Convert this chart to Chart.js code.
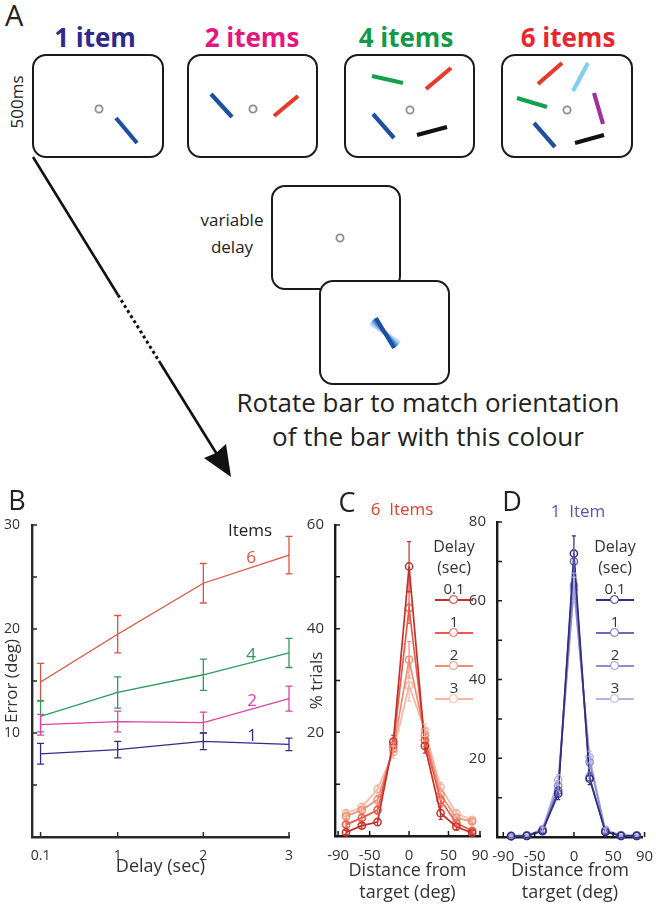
<!DOCTYPE html>
<html>
<head>
<meta charset="utf-8">
<script src="https://cdn.jsdelivr.net/npm/chart.js@4.4.1/dist/chart.umd.min.js"></script>
<style>
  html, body { margin: 0; padding: 0; background: #fff; }
  #fig { position: relative; width: 656px; height: 904px; overflow: hidden;
         font-family: "Open Sans", sans-serif; color: #222; }
  canvas, svg { position: absolute; }
  .lbl { position: absolute; white-space: nowrap; line-height: 1;
         transform: translate(-50%, -50%); }
  .key { position: absolute; width: 38px; height: 2px; }
  .key i { position: absolute; left: 14px; top: -4px; width: 7px; height: 7px;
           border: 1.5px solid; border-radius: 50%; background: #fff; }
</style>
</head>
<body>
<div id="fig">
  <svg id="schema" style="left:0;top:0" width="656" height="480">
    <text x="5" y="26" font-size="29" fill="#222">A</text>
    <g font-size="26" font-weight="700" text-anchor="middle">
      <text x="95" y="47" fill="#2e2a8c">1 item</text>
      <text x="252" y="47" fill="#e5177f">2 items</text>
      <text x="406" y="47" fill="#129a4b">4 items</text>
      <text x="568" y="47" fill="#e8262e">6 items</text>
    </g>
    <text transform="translate(23,102) rotate(-90)" font-size="17" text-anchor="middle" fill="#222">500ms</text>
    <g fill="#fff" stroke="#1a1a1a" stroke-width="2">
      <rect x="33" y="55" width="130" height="102" rx="13"/>
      <rect x="188" y="55" width="129" height="102" rx="13"/>
      <rect x="345" y="55" width="129" height="102" rx="13"/>
      <rect x="502" y="55" width="130" height="102" rx="13"/>
      <rect x="272" y="186" width="128" height="103" rx="13"/>
      <rect x="320" y="281" width="129" height="103" rx="13"/>
    </g>
    <g fill="none" stroke="#8d8d8d" stroke-width="1.8">
      <circle cx="99" cy="109" r="3.6"/>
      <circle cx="253" cy="109" r="3.6"/>
      <circle cx="410" cy="110" r="3.6"/>
      <circle cx="567" cy="110" r="3.6"/>
      <circle cx="340" cy="238" r="3.6"/>
    </g>
    <g stroke-width="4.2" stroke-linecap="butt">
      <line x1="116" y1="118" x2="137" y2="143" stroke="#1f4fa0"/>
      <line x1="211" y1="94" x2="232" y2="117" stroke="#1f4fa0"/>
      <line x1="274" y1="116" x2="298" y2="96" stroke="#e8392b"/>
      <line x1="372" y1="76" x2="403" y2="83" stroke="#13a04f"/>
      <line x1="426" y1="89" x2="451" y2="68" stroke="#e8392b"/>
      <line x1="373" y1="114" x2="394" y2="138" stroke="#1f4fa0"/>
      <line x1="417" y1="135" x2="447" y2="127" stroke="#111"/>
      <line x1="538" y1="84" x2="562" y2="63" stroke="#e8392b"/>
      <line x1="573" y1="91" x2="588" y2="63" stroke="#7fcfef"/>
      <line x1="517" y1="98" x2="547" y2="107" stroke="#13a04f"/>
      <line x1="594" y1="93" x2="603" y2="124" stroke="#a0309a"/>
      <line x1="534" y1="123" x2="555" y2="147" stroke="#1f4fa0"/>
      <line x1="575" y1="143" x2="604" y2="135" stroke="#111"/>
    </g>
    <g stroke-width="4" transform="translate(385,333)">
      <line x1="-9" y1="-15" x2="9" y2="15" stroke="#c6e1f5" transform="rotate(-26)"/>
      <line x1="-9" y1="-15" x2="9" y2="15" stroke="#9cc8ee" transform="rotate(-19)"/>
      <line x1="-9" y1="-15" x2="9" y2="15" stroke="#6aa6dd" transform="rotate(-12)"/>
      <line x1="-9" y1="-15" x2="9" y2="15" stroke="#3c7cc5" transform="rotate(-6)"/>
      <line x1="-9" y1="-15" x2="9" y2="15" stroke="#1f4fa0"/>
    </g>
    <g font-size="17" fill="#222" text-anchor="middle">
      <text x="232" y="226">variable</text>
      <text x="232" y="253">delay</text>
    </g>
    <g font-size="26" fill="#222" text-anchor="middle">
      <text x="428" y="412">Rotate bar to match orientation</text>
      <text x="428" y="446">of the bar with this colour</text>
    </g>
    <g stroke="#111" stroke-width="2.6" fill="none">
      <line x1="33" y1="157" x2="118" y2="295"/>
      <line x1="118" y1="295" x2="159" y2="361" stroke-dasharray="3 3" stroke-width="3"/>
      <line x1="159" y1="361" x2="218" y2="456"/>
    </g>
    <path d="M231 477 L204 458 L216 453 L226 444 Z" fill="#111"/>
  </svg>

  <canvas id="chartB" width="300" height="400" style="left:0;top:480px"></canvas>
  <canvas id="chartC" width="195" height="424" style="left:300px;top:480px"></canvas>
  <canvas id="chartD" width="196" height="424" style="left:460px;top:480px"></canvas>

  <div class="lbl" style="left:17px;top:499px;font-size:27px">B</div>
  <div class="lbl" style="left:250px;top:529px;font-size:17px">Items</div>
  <div class="lbl" style="left:251px;top:556px;font-size:17px;color:#e0533f">6</div>
  <div class="lbl" style="left:251px;top:653px;font-size:17px;color:#2e9b5e">4</div>
  <div class="lbl" style="left:252px;top:699px;font-size:17px;color:#e040a8">2</div>
  <div class="lbl" style="left:252px;top:734px;font-size:17px;color:#2f2f86">1</div>

  <div class="lbl" style="left:347px;top:501px;font-size:27px">C</div>
  <div class="lbl" style="left:402px;top:508px;font-size:17px;color:#e0402e">6&nbsp; Items</div>
  <div class="lbl" style="left:512px;top:500px;font-size:27px">D</div>
  <div class="lbl" style="left:578px;top:510px;font-size:17px;color:#5b55b0">1&nbsp; Item</div>

  <div id="legC"></div>
  <div id="legD"></div>
</div>

<script>
// ---- data ----
const delays = [0.1, 1, 2, 3];
const setSizes = ['6', '4', '2', '1'];
const errorTicks = [0, 5, 10, 15, 20, 25, 30];
const errorLabels = [10, 20, 30];

const err6 = [14.9, 19.5, 24.4, 27.1];
const err4 = [11.6, 13.9, 15.6, 17.7];
const err2 = [10.8, 11.1, 11.0, 13.3];
const err1 = [8.0, 8.4, 9.2, 8.9];
const sem6 = [1.8, 1.8, 1.9, 1.8];
const sem4 = [1.5, 1.5, 1.5, 1.4];
const sem2 = [1.0, 1.0, 1.0, 1.2];
const sem1 = [1.0, 0.8, 0.8, 0.6];

const distances = [-80, -60, -40, -20, 0, 20, 40, 60, 80];
const distTicks = [-90, -50, 0, 50, 90];
const delayNames = ['0.1', '1', '2', '3'];

// panel C: 6 items, % trials per delay
const c01 = [0.7, 2.0, 2.7, 18.2, 52.0, 17.4, 4.4, 1.8, 0.6];
const c1  = [2.2, 3.5, 5.0, 17.5, 44.0, 18.5, 6.9, 2.5, 1.0];
const c2  = [3.8, 5.0, 7.0, 16.8, 34.0, 19.5, 8.0, 3.5, 2.8];
const c3  = [4.4, 5.6, 9.0, 16.2, 29.0, 20.4, 9.4, 4.4, 3.1];
const cSem01 = [0.4, 0.5, 0.7, 1.2, 4.8, 1.4, 1.2, 0.6, 0.4];
const cSem1  = [0.5, 0.6, 0.8, 1.2, 3.0, 1.2, 1.0, 0.6, 0.5];
const cSem2  = [0.5, 0.6, 0.8, 1.2, 3.5, 1.2, 1.0, 0.6, 0.5];
const cSem3  = [0.5, 0.6, 0.8, 1.2, 3.0, 1.2, 1.0, 0.6, 0.5];
const cTicks = [0, 10, 20, 30, 40, 50, 60];
const cLabels = [20, 40, 60];

// panel D: 1 item
const d01 = [0.2, 0.3, 1.5, 11.0, 72.0, 14.8, 1.3, 0.3, 0.3];
const d1  = [0.2, 0.3, 1.6, 11.8, 70.0, 15.2, 1.4, 0.3, 0.3];
const d2  = [0.3, 0.4, 1.8, 13.0, 64.0, 19.0, 1.6, 0.4, 0.4];
const d3  = [0.3, 0.4, 2.0, 14.5, 63.0, 20.3, 1.8, 0.5, 0.4];
const dSem01 = [0.2, 0.2, 0.5, 1.5, 4.5, 1.5, 0.5, 0.2, 0.2];
const dSem1  = [0.2, 0.2, 0.5, 1.3, 3.0, 1.3, 0.5, 0.2, 0.2];
const dSem2  = [0.2, 0.2, 0.5, 1.3, 3.0, 1.5, 0.5, 0.2, 0.2];
const dSem3  = [0.2, 0.2, 0.5, 1.3, 3.0, 1.5, 0.5, 0.2, 0.2];
const dTicks = [0, 10, 20, 30, 40, 50, 60, 70, 80];
const dLabels = [20, 40, 60, 80];

const colorsB = ['#e0533f', '#2e9b5e', '#e040a8', '#2f2f86'];
const colorsC = ['#c4302a', '#ea5b49', '#f08c72', '#f5b7a0'];
const colorsD = ['#2e2e82', '#6c68bb', '#918ecf', '#b5b3e0'];

// ---- helpers ----
Chart.defaults.font.family = '"Open Sans", sans-serif';
Chart.defaults.color = '#222';

const pts = (xs, ys) => xs.map((x, i) => ({ x, y: ys[i] }));
const setTicks = (vals) => (s) => { s.ticks = vals.map(v => ({ value: v })); };

const innerTicks = {
  id: 'innerTicks',
  afterDraw(chart, args, o) {
    const { ctx, chartArea: a } = chart;
    const xs = chart.scales.x, ys = chart.scales.y;
    ctx.save();
    ctx.strokeStyle = o.color;
    ctx.lineWidth = o.width;
    ctx.beginPath();
    xs.ticks.forEach(t => {
      const p = xs.getPixelForValue(t.value);
      ctx.moveTo(p, a.bottom); ctx.lineTo(p, a.bottom - o.len);
    });
    ys.ticks.forEach(t => {
      const p = ys.getPixelForValue(t.value);
      ctx.moveTo(a.left, p); ctx.lineTo(a.left + o.len, p);
    });
    ctx.stroke();
    ctx.restore();
  }
};

const errorBars = {
  id: 'errorBars',
  afterDatasetsDraw(chart, args, o) {
    const { ctx } = chart;
    const ys = chart.scales.y;
    chart.data.datasets.forEach((ds, i) => {
      if (!ds.errors) return;
      const meta = chart.getDatasetMeta(i);
      ctx.save();
      ctx.strokeStyle = ds.borderColor;
      ctx.lineWidth = o.width;
      ctx.beginPath();
      meta.data.forEach((pt, j) => {
        const e = ds.errors[j];
        if (!e) return;
        const v = ds.data[j].y;
        const top = ys.getPixelForValue(v + e), bot = ys.getPixelForValue(v - e);
        ctx.moveTo(pt.x, top); ctx.lineTo(pt.x, bot);
        ctx.moveTo(pt.x - o.cap, top); ctx.lineTo(pt.x + o.cap, top);
        ctx.moveTo(pt.x - o.cap, bot); ctx.lineTo(pt.x + o.cap, bot);
      });
      ctx.stroke();
      ctx.restore();
    });
  }
};

function axis(opts) {
  return Object.assign({
    type: 'linear',
    grid: { display: false },
    border: { display: true, color: '#2a2a2a', width: 2.4 },
  }, opts);
}

// ---- panel B ----
const seriesB = [err6, err4, err2, err1];
const semB = [sem6, sem4, sem2, sem1];

new Chart(document.getElementById('chartB'), {
  type: 'line',
  data: {
    datasets: seriesB.map((s, i) => ({
      label: setSizes[i],
      data: pts(delays, s),
      errors: semB[i],
      borderColor: colorsB[i],
      borderWidth: 1.3,
      pointRadius: 0,
      tension: 0,
      clip: false
    }))
  },
  plugins: [innerTicks, errorBars],
  options: {
    responsive: false,
    animation: false,
    events: [],
    layout: { padding: { top: 45, right: 11, left: 0, bottom: 0 } },
    plugins: {
      legend: { display: false },
      tooltip: { enabled: false },
      innerTicks: { len: 5, color: '#2a2a2a', width: 1.5 },
      errorBars: { cap: 3.5, width: 1.3 }
    },
    scales: {
      x: axis({
        min: 0, max: 3,
        afterBuildTicks: setTicks(delays),
        afterFit: s => { s.height = 43; },
        ticks: { autoSkip: false, maxRotation: 0, padding: 3, font: { size: 14 }, color: '#333',
                 callback: v => String(v) },
        title: { display: true, text: 'Delay (sec)', font: { size: 18 }, color: '#333',
                 padding: { top: 0, bottom: 2 } }
      }),
      y: axis({
        min: 0, max: 30,
        afterBuildTicks: setTicks(errorTicks),
        afterFit: s => { s.width = 32; },
        ticks: { autoSkip: false, padding: 4, font: { size: 14 }, color: '#333',
                 callback: v => errorLabels.includes(v) ? String(v) : '' },
        title: { display: true, text: 'Error (deg)', font: { size: 17 }, color: '#333',
                 padding: { top: 2, bottom: 0 } }
      })
    }
  }
});

// ---- panels C and D ----
function distChart(id, series, sems, colors, o) {
  return new Chart(document.getElementById(id), {
    type: 'line',
    data: {
      datasets: series.map((s, i) => ({
        label: delayNames[i],
        data: pts(distances, s),
        errors: sems[i],
        borderColor: colors[i],
        borderWidth: 1.7,
        pointRadius: 3.6,
        pointBorderWidth: 1.5,
        pointBackgroundColor: 'transparent',
        pointBorderColor: colors[i],
        tension: 0,
        clip: false
      }))
    },
    plugins: [innerTicks, errorBars],
    options: {
      responsive: false,
      animation: false,
      events: [],
      layout: { padding: { top: o.top, right: o.right, left: 0, bottom: 0 } },
      plugins: {
        legend: { display: false },
        tooltip: { enabled: false },
        innerTicks: { len: 5, color: '#1a1a1a', width: 1.5 },
        errorBars: { cap: 2, width: 1.2 }
      },
      scales: {
        x: axis({
          min: o.xmin, max: o.xmax,
          border: { display: true, color: '#1a1a1a', width: 2.4 },
          afterBuildTicks: setTicks(distTicks),
          afterFit: s => { s.height = o.xh; },
          ticks: { autoSkip: false, maxRotation: 0, padding: 3, font: { size: 15 }, color: '#333' },
          title: { display: true, text: ['Distance from', 'target (deg)'], font: { size: 18 }, color: '#333',
                   padding: { top: 0, bottom: 0.6 } }
        }),
        y: axis({
          min: 0, max: o.ymax,
          border: { display: true, color: '#1a1a1a', width: 2.4 },
          afterBuildTicks: setTicks(o.yticks),
          afterFit: s => { s.width = o.yw; },
          ticks: { autoSkip: false, padding: 3, font: { size: 15 }, color: '#333',
                   callback: v => o.ylabels.includes(v) ? String(v) : '' },
          title: { display: o.ytitle !== '', text: o.ytitle, font: { size: 17 }, color: '#333',
                   padding: { top: 7, bottom: 0 } }
        })
      }
    }
  });
}

distChart('chartC', [c01, c1, c2, c3], [cSem01, cSem1, cSem2, cSem3], colorsC,
  { top: 45, right: 15, xh: 68, yw: 35, xmin: -94, xmax: 90, ymax: 60,
    yticks: cTicks, ylabels: cLabels, ytitle: '% trials' });

distChart('chartD', [d01, d1, d2, d3], [dSem01, dSem1, dSem2, dSem3], colorsD,
  { top: 42, right: 13, xh: 67, yw: 37, xmin: -98, xmax: 88, ymax: 80,
    yticks: dTicks, ylabels: dLabels, ytitle: '' });

// ---- legends ----
function legend(id, cx, colors) {
  const box = document.getElementById(id);
  let html = `<div class="lbl" style="left:${cx}px;top:546px;font-size:16px;color:#333">Delay</div>` +
             `<div class="lbl" style="left:${cx}px;top:567px;font-size:16px;color:#333">(sec)</div>`;
  delayNames.forEach((name, i) => {
    const y = 599 + i * 33;
    html += `<div class="lbl" style="left:${cx}px;top:${y - 11}px;font-size:15px;color:#333">${name}</div>`;
    html += `<div class="key" style="left:${cx - 19}px;top:${y}px;background:${colors[i]}">` +
            `<i style="border-color:${colors[i]}"></i></div>`;
  });
  box.innerHTML = html;
}
legend('legC', 454, colorsC);
legend('legD', 615, colorsD);
</script>
</body>
</html>
